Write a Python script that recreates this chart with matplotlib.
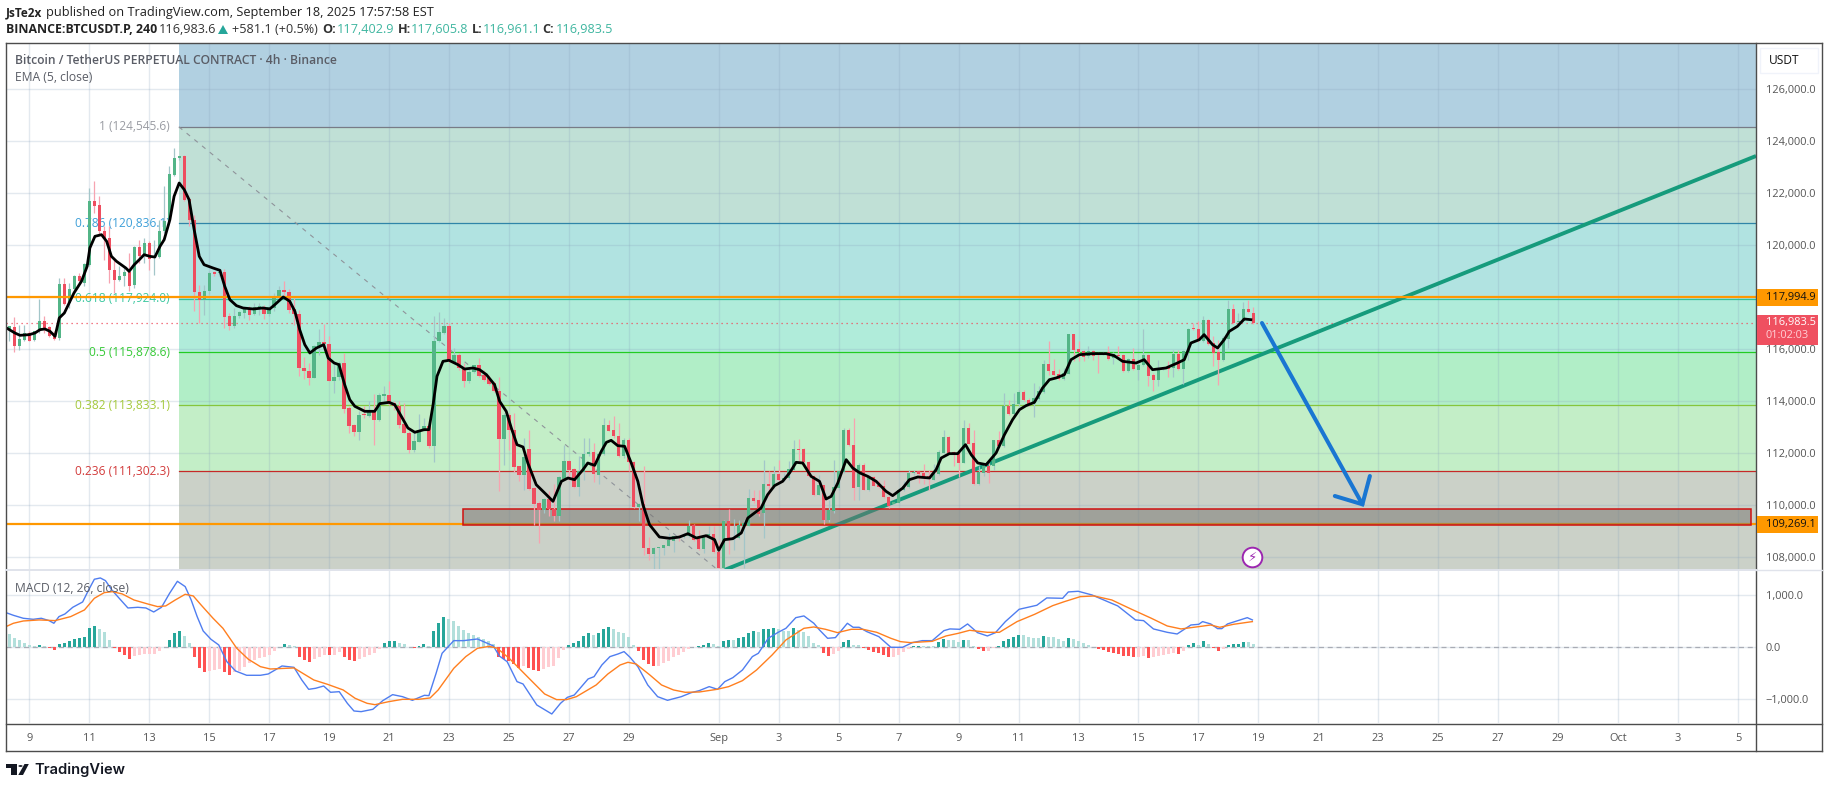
import numpy as np
import matplotlib
matplotlib.use("Agg")
import matplotlib.pyplot as plt
from matplotlib.lines import Line2D
from matplotlib.patches import Rectangle, Polygon, Circle

W, H = 1829, 788
FONT = "Open Sans"

opens = [
    116740, 116850, 116130, 116360, 116620, 116330, 116680, 117060, 116850, 116510,
    116410, 118510, 117750, 118310, 118790, 118540, 119240, 121700, 121550, 120550,
    120270, 119050, 118640, 118790, 118950, 118450, 119910, 119590, 120080, 119550,
    119530, 120550, 120910, 122700, 123330, 123440, 121770, 120970, 118200, 117870,
    118220, 118950, 118920, 118970, 117260, 116900, 117260, 117385, 117540, 117330,
    117580, 117620, 117330, 117580, 117950, 118280, 118200, 117540, 117360, 115280,
    115170, 114900, 116100, 116280, 116200, 114760, 114910, 115460, 113730, 113080,
    112800, 113480, 113410, 113600, 113280, 114210, 114230, 113920, 113820, 113120,
    112780, 112130, 112440, 112870, 113050, 112260, 116290, 116620, 116900, 115500,
    115780, 115270, 114760, 115100, 115400, 115010, 114870, 114690, 114400, 112550,
    113470, 112900, 111490, 111170, 112170, 110650, 110080, 109800, 110240, 109850,
    109590, 111010, 111700, 111400, 110680, 111270, 111950, 112050, 111170, 111950,
    113090, 112900, 112670, 111870, 112510, 111670, 109920, 110040, 108360, 108130,
    108360, 108360, 108440, 108630, 108800, 108770, 108800, 109230, 108730, 108320,
    108750, 108890, 108200, 107590, 109400, 108710, 108720, 109180, 109180, 110270,
    110200, 109690, 110820, 110720, 111210, 110970, 111020, 111360, 112170, 112170,
    111670, 111130, 110400, 110780, 109440, 109760, 110650, 111270, 112900, 112320,
    110680, 111550, 110590, 111060, 110780, 110720, 110310, 110050, 110080, 110570,
    110690, 111220, 111300, 111230, 111100, 110970, 111210, 112010, 112600, 112040,
    112000, 111630, 112960, 112390, 110820, 111230, 111510, 111510, 112510, 112260,
    113820, 113490, 113870, 114360, 114050, 113900, 114090, 114350, 115440, 115170,
    115040, 114850, 115050, 116580, 116000, 115920, 115720, 115940, 115830, 115820,
    115870, 115650, 115750, 115770, 115140, 115620, 115210, 115370, 115780, 115000,
    114790, 115260, 115310, 115280, 115820, 115230, 115870, 116780, 116770, 116300,
    117130, 116230, 115870, 115560, 116400, 117550, 117020, 117060, 117550, 117402.9,
]
highs = [
    116880, 117230, 116940, 116940, 116680, 116700, 117920, 117260, 116870, 116680,
    118730, 118730, 118540, 118860, 118920, 119310, 122190, 122470, 121870, 120720,
    120720, 119440, 119180, 119180, 119690, 119950, 120210, 120270, 120140, 120210,
    120970, 122260, 123030, 123730, 123440, 123480, 121810, 121170, 118470, 118470,
    118990, 119000, 119000, 119080, 117390, 117580, 117450, 117580, 117640, 117770,
    117770, 117710, 117710, 118150, 118410, 118600, 118310, 117960, 117510, 115690,
    115460, 116170, 116770, 116980, 116490, 115460, 115530, 115850, 113790, 113100,
    113600, 113820, 113990, 114280, 114310, 114560, 114760, 113990, 113990, 113920,
    112830, 112830, 113510, 113350, 113280, 117280, 117410, 117190, 117000, 116040,
    115850, 115460, 115270, 115400, 115650, 115200, 115010, 114760, 114920, 113540,
    113540, 113540, 111510, 112580, 112900, 110690, 110140, 110270, 110520, 110820,
    111100, 112320, 111740, 111420, 111870, 112580, 112580, 112380, 112000, 113350,
    113280, 113410, 113150, 112580, 112580, 111680, 110080, 111510, 108770, 108390,
    108390, 108480, 108920, 108820, 108860, 108920, 109440, 109280, 109050, 108800,
    109180, 109180, 108670, 109440, 109850, 109460, 109440, 109440, 110620, 110590,
    110590, 111740, 111300, 111490, 111740, 111230, 111680, 112490, 112550, 112190,
    111680, 111170, 111170, 110780, 110200, 111740, 111360, 112960, 112960, 113350,
    111610, 111610, 111170, 111100, 110970, 110970, 110330, 110130, 110650, 110910,
    111360, 111360, 111360, 111590, 111330, 111590, 112130, 112900, 112670, 112070,
    112030, 113260, 113150, 112900, 111490, 111620, 111620, 112510, 112830, 114310,
    114050, 114310, 114440, 114440, 114120, 114690, 114560, 115590, 116300, 115620,
    115230, 115270, 116590, 116590, 116300, 115950, 116130, 115980, 115870, 115910,
    116100, 115870, 116130, 115790, 115650, 116040, 115620, 116770, 115810, 115080,
    115590, 115280, 115530, 115970, 115970, 115970, 116810, 117000, 117060, 117280,
    117150, 116490, 116330, 116490, 117900, 117740, 117390, 117800, 117900, 117605.8,
]
lows = [
    116300, 115870, 115970, 116300, 116300, 116300, 116620, 116620, 116460, 116360,
    116360, 117700, 117580, 118150, 118540, 118410, 119180, 121230, 120400, 119440,
    118540, 118150, 118600, 118410, 118220, 118350, 119310, 119310, 119050, 118860,
    119500, 120460, 120850, 122640, 123280, 121680, 120720, 117450, 117000, 117320,
    118100, 118800, 118800, 116810, 116740, 116810, 117190, 117190, 117100, 117320,
    117320, 117150, 117260, 117450, 117900, 118030, 117390, 116940, 114970, 114850,
    114630, 114880, 115780, 115970, 114760, 114310, 114820, 113540, 112770, 112640,
    112510, 113350, 113390, 112320, 113220, 113920, 113860, 113670, 112960, 112750,
    112000, 112030, 112410, 112830, 112190, 111640, 116260, 116590, 115460, 115460,
    115200, 114540, 114690, 115080, 114920, 114760, 114630, 114330, 110520, 111550,
    112130, 111260, 110910, 110560, 110590, 109240, 108540, 109690, 109560, 109370,
    109400, 110970, 110970, 110650, 110330, 110970, 111870, 110870, 110820, 111920,
    112830, 112580, 111850, 111810, 111300, 109890, 109370, 108090, 107900, 107520,
    107520, 108090, 108410, 108180, 108600, 108730, 108770, 108600, 108280, 108150,
    108720, 108150, 107520, 107590, 108130, 108280, 108690, 107580, 109180, 110080,
    109560, 108730, 110330, 110650, 110910, 110910, 110970, 111330, 111680, 111610,
    111080, 110360, 110400, 109280, 109330, 109690, 110590, 111230, 112260, 110200,
    110200, 110560, 110530, 110720, 110660, 110270, 109890, 110020, 110050, 110530,
    110670, 111170, 110850, 110820, 110590, 110950, 111170, 112000, 112000, 111490,
    111080, 111620, 112330, 110780, 110780, 111100, 110850, 111360, 112230, 112230,
    113480, 113480, 113820, 113990, 113800, 113370, 114050, 114310, 115010, 114950,
    114820, 114820, 115030, 115530, 115530, 115530, 115650, 115590, 115080, 115780,
    115590, 115440, 115690, 115100, 115100, 115200, 114820, 115330, 114590, 114370,
    114560, 115200, 114910, 114920, 115200, 114670, 115590, 116740, 116260, 116280,
    116170, 115360, 114630, 115530, 116040, 116970, 116870, 117030, 117390, 116961.1,
]
closes = [
    116870, 116130, 116390, 116620, 116320, 116680, 117060, 116770, 116490, 116390,
    118510, 117740, 118310, 118790, 118600, 119270, 121700, 121510, 120530, 120270,
    119030, 118640, 118820, 118950, 118440, 119910, 119590, 120080, 119460, 119560,
    120550, 120910, 122740, 123350, 123440, 121740, 120950, 118180, 117870, 118240,
    118920, 118900, 118950, 117230, 116900, 117280, 117410, 117540, 117320, 117620,
    117640, 117330, 117620, 118000, 118280, 118180, 117510, 117330, 115260, 115140,
    114870, 116130, 116280, 116180, 114760, 114940, 115460, 113710, 113050, 112800,
    113480, 113450, 113600, 113280, 114230, 114230, 113900, 113800, 113090, 112770,
    112130, 112460, 112900, 113050, 112260, 116320, 116640, 116900, 115530, 115780,
    115270, 114760, 115120, 115370, 114970, 114820, 114670, 114370, 112540, 113470,
    112870, 111450, 111170, 111830, 110630, 110050, 109800, 110240, 109850, 109590,
    111060, 111700, 111360, 110680, 111300, 111970, 112050, 111180, 111970, 113090,
    112860, 112640, 111870, 112510, 111640, 109920, 110040, 108330, 108130, 108350,
    108375, 108460, 108640, 108800, 108740, 108820, 109210, 108640, 108320, 108770,
    108890, 108180, 107590, 109400, 108730, 108770, 109220, 109310, 110270, 110170,
    109650, 110820, 110720, 111210, 110970, 111050, 111400, 112170, 112130, 111640,
    111100, 110400, 110780, 109440, 109800, 110690, 111300, 112900, 112300, 110650,
    111550, 110590, 111060, 110740, 110690, 110300, 109980, 110100, 110590, 110720,
    111230, 111260, 111210, 111080, 111000, 111230, 112040, 112600, 112010, 112000,
    111630, 112960, 112360, 110820, 111260, 111490, 111230, 112510, 112260, 113820,
    113510, 113900, 114360, 114030, 113900, 114120, 114370, 115440, 115140, 115010,
    114850, 115080, 116580, 115970, 115900, 115690, 115920, 115720, 115820, 115850,
    115610, 115820, 115740, 115140, 115620, 115230, 115400, 115780, 114970, 114790,
    115280, 115260, 115230, 115820, 115230, 115910, 116770, 116760, 116300, 117130,
    116200, 115850, 115560, 116420, 117550, 117000, 117030, 117550, 117410, 116983.5,
]

# EMA, (day of chart, price)
ema_days = [
    8.24, 8.52, 8.69, 9.00, 9.19, 9.36, 9.52, 9.69, 9.86, 10.00, 10.17, 10.33, 10.49, 10.74,
    10.93, 11.02, 11.19, 11.41, 11.58, 11.74, 11.91, 12.22, 12.33, 12.50, 12.67, 12.83,
    13.02, 13.19, 13.36, 13.50, 13.69, 13.83, 14.00, 14.17, 14.33, 14.50, 14.67, 14.83,
    15.13, 15.36, 15.52, 15.69, 15.91, 16.13, 16.47, 16.80, 17.02, 17.19, 17.47, 17.69,
    17.86, 18.02, 18.19, 18.36, 18.58, 18.82, 18.97, 19.17, 19.33, 19.52, 19.69, 19.86,
    20.19, 20.52, 20.69, 21.00, 21.19, 21.41, 21.63, 21.86, 22.17, 22.33, 22.47, 22.60,
    22.80, 23.00, 23.30, 23.52, 23.80, 24.02, 24.25, 24.52, 24.69, 24.91, 25.08, 25.27,
    25.47, 25.63, 25.91, 26.25, 26.47, 26.75, 26.97, 27.19, 27.47, 27.63, 27.86, 28.08,
    28.25, 28.41, 28.63, 28.86, 29.08, 29.30, 29.47, 29.69, 30.02, 30.36, 30.69, 30.97,
    31.25, 31.58, 31.86, 32.00, 32.19, 32.47, 32.75, 32.97, 33.19, 33.41, 33.63, 33.86,
    34.13, 34.36, 34.58, 34.80, 35.08, 35.36, 35.58, 35.75, 35.97, 36.25, 36.47, 36.71,
    36.97, 37.25, 37.58, 37.80, 38.14, 38.36, 38.64, 39.03, 39.25, 39.42, 39.69, 39.97,
    40.23, 40.42, 40.64, 40.92, 41.25, 41.53, 41.80, 42.03, 42.25, 42.53, 42.80, 43.03,
    43.25, 43.53, 43.75, 44.03, 44.47, 44.92, 45.19, 45.47, 45.92, 46.19, 46.47, 46.92,
    47.30, 47.53, 47.75, 48.03, 48.19, 48.47, 48.64, 48.86, 49.03, 49.30, 49.53, 49.75,
]
ema_values = [
    116808, 116616, 116526, 116552, 116616, 116744, 116770, 116680, 116488, 117193, 117385, 117770, 118154, 118603,
    119179, 119884, 120333, 120397, 120141, 119564, 119371, 119115, 118987, 119243, 119435, 119628,
    119564, 119538, 119948, 120205, 120974, 121871, 122384, 122128, 121743, 120589, 119564, 119243,
    119115, 119025, 118410, 117898, 117667, 117577, 117539, 117577, 117539, 117705, 118000, 117834,
    117449, 116744, 116167, 115847, 116039, 116167, 115654, 115462, 115398, 114629, 114052, 113795,
    113603, 113603, 113898, 113949, 113859, 113411, 112962, 112796, 112898, 112898, 113859, 114949,
    115526, 115565, 115397, 115230, 115269, 115205, 115012, 114628, 113987, 113602, 112961, 112320,
    112231, 111615, 110782, 110397, 110141, 110910, 111038, 110974, 111359, 111615, 111525, 112064,
    112410, 112487, 112282, 112256, 111615, 110910, 110013, 109244, 108769, 108718, 108769, 108897,
    108731, 108820, 108667, 108256, 108667, 108705, 108923, 109500, 109692, 109885, 110397, 110743,
    110910, 111231, 111641, 111615, 111102, 110910, 110231, 110333, 110846, 111743, 111423, 111231,
    111102, 110910, 110526, 110360, 110655, 110975, 111078, 111039, 111360, 111808, 111975, 111975,
    112321, 111936, 111616, 111552, 112000, 112705, 113282, 113667, 113821, 113949, 114500, 114821,
    114885, 115013, 115590, 115782, 115821, 115821, 115744, 115526, 115462, 115590, 115205, 115270,
    115462, 115590, 116231, 116359, 116552, 116167, 116039, 116359, 116680, 116872, 117154, 117128,
]

hist_values = [
    263, 186, 135, 90, 45, 26, 51, 19, -19, -45,
    64, 90, 128, 167, 173, 205, 365, 417, 353, 288,
    147, -19, -96, -141, -218, -167, -154, -128, -128, -128,
    -64, 0, 141, 269, 314, 224, 90, -192, -397, -468,
    -449, -429, -417, -468, -526, -481, -449, -372, -308, -244,
    -212, -179, -141, -77, 13, 64, 38, 19, -192, -244,
    -276, -224, -179, -141, -147, -141, -96, -179, -244, -269,
    -224, -179, -154, -115, -32, 77, 115, 128, 90, 64,
    0, -19, 26, 64, 32, 321, 474, 577, 545, 500,
    417, 333, 282, 244, 205, 167, 115, 64,
    -192, -224, -269, -321, -397, -353, -397, -436, -449, -417, -385, -353, -205, -45,
    51, 77, 128, 212, 269, 244, 269, 353,
    385, 353, 301, 282, 205, 38, -64, -237, -321, -353,
    -353, -308, -256, -192, -141, -90, -32, 13, 19, 51,
    90, 58, 26, 128, 141, 141, 179, 205, 276, 321,
    301, 353, 359, 372, 353, 321, 321, 365, 333, 295,
    218, 90, 51, -115, -173, -128, -77, 96, 141, 51,
    51, -19, -51, -83, -109, -141, -179, -179, -141, -96,
    -32, 19, 32, 32, 32, 26, 96, 160, 147, 147,
    109, 147, 147, 32, -32, -64, -64, -19, 32, 128,
    154, 199, 244, 237, 205, 186, 173, 224, 205, 192,
    154, 128, 173, 160, 128, 90, 51, 13, -32, -58,
    -83, -109, -122, -160, -167, -192, -192, -160, -212, -192,
    -167, -154, -135, -115, -122, -77, 38, 77, 51, 115,
    71, -6, -71, -32, 51, 64, 71, 103, 103, 64,
]

macd_days = [
    8.22, 8.47, 8.80, 9.13, 9.40, 9.66, 9.82, 9.99, 10.19, 10.45, 10.78, 10.98, 11.17, 11.37,
    11.54, 11.77, 12.03, 12.29, 12.62, 12.89, 13.15, 13.41, 13.68, 13.94, 14.20, 14.40, 14.60,
    14.80, 15.06, 15.32, 15.59, 15.88, 16.25, 16.71, 16.97, 17.43, 17.83, 18.09, 18.32, 18.55,
    18.82, 19.05, 19.34, 19.61, 19.83, 20.07, 20.46, 20.79, 21.12, 21.45, 21.78, 22.18, 22.33,
    22.57, 22.77, 23.16, 23.49, 23.95, 24.48, 24.68, 24.94, 25.27, 25.47, 25.93, 26.43, 26.72,
    26.95, 27.18, 27.64, 27.84, 28.10, 28.37, 28.64, 28.84, 29.04, 29.30, 29.63, 29.96, 30.29,
    30.75, 31.08, 31.35, 31.68, 31.96, 32.20, 32.47, 32.79, 33.12, 33.32, 33.65, 33.98, 34.24,
    34.57, 34.84, 35.17, 35.36, 35.63, 35.89, 36.29, 36.48, 36.68, 36.94, 37.34, 37.74, 38.13,
    38.46, 38.79, 39.12, 39.51, 39.71, 40.04, 40.30, 40.63, 40.96, 41.23, 41.56, 42.02, 42.61,
    42.94, 43.47, 43.66, 43.99, 44.45, 45.31, 45.90, 46.17, 46.50, 46.96, 47.29, 47.75, 48.01,
    48.14, 48.41, 48.64, 48.78, 48.97, 49.63, 49.80,
]
macd_values = [
    667, 615, 558, 538, 558, 513, 462, 590, 641, 769, 872, 1103, 1308, 1333,
    1282, 1090, 923, 756, 769, 756, 679, 769, 1038, 1269, 1167, 910, 590,
    314, 154, 45, -276, -455, -538, -538, -513, -359, -385, -628, -808, -788,
    -744, -865, -853, -1077, -1224, -1237, -1192, -1026, -910, -949, -1019, -923, -929,
    -500, -115, 128, 128, 160, 26, -167, -276, -660, -705, -1109, -1282, -1077,
    -962, -917, -609, -564, -340, -179, -128, -83, -192, -372, -724, -949, -1019,
    -949, -872, -833, -756, -808, -660, -583, -436, -179, -115, 173, 288, 365,
    570, 603, 462, 333, 173, 186, 462, 385, 385, 301, 205, 0, 0,
    90, 128, 128, 320, 353, 346, 449, 282, 218, 282, 494, 731, 808,
    949, 942, 1064, 1077, 1006, 795, 526, 513, 353, 288, 256, 429, 442,
    494, 449, 359, 359, 449, 570, 526,
]
signal_days = [
    8.22, 8.47, 8.80, 9.33, 9.86, 10.38, 10.84, 11.17, 11.50, 11.77, 12.10, 12.49, 12.95, 13.28,
    13.55, 13.87, 14.20, 14.47, 14.73, 15.13, 15.46, 15.92, 16.31, 16.71, 17.04, 17.83, 18.16,
    18.49, 18.95, 19.47, 19.87, 20.27, 20.53, 20.99, 21.45, 21.98, 22.37, 22.64, 23.16, 23.56,
    23.95, 24.35, 24.61, 25.01, 25.67, 26.19, 26.59, 26.92, 27.25, 27.91, 28.30, 28.71, 28.97,
    29.24, 29.70, 30.09, 30.49, 30.88, 31.35, 31.94, 32.33, 32.79, 33.26, 33.78, 34.24, 34.84,
    35.17, 35.56, 35.96, 36.42, 36.81, 37.27, 37.74, 38.06, 38.39, 39.12, 39.58, 39.99, 40.37,
    40.96, 41.36, 41.95, 42.54, 43.14, 43.53, 44.06, 44.52, 45.11, 45.77, 46.43, 46.96, 47.42,
    48.01, 48.41, 48.71, 49.17, 49.80,
]
signal_values = [
    397, 462, 506, 526, 513, 590, 718, 942, 1051, 1070, 1026, 910, 833, 782,
    795, 910, 1019, 987, 814, 558, 365, -19, -231, -372, -417, -397, -513,
    -628, -712, -820, -981, -1077, -1103, -1045, -1000, -1000, -974, -820, -404, -179,
    -19, 19, -19, -212, -596, -897, -1006, -1006, -949, -724, -513, -340, -288,
    -320, -532, -724, -820, -865, -859, -808, -756, -641, -436, -147, 141, 365,
    391, 346, 282, 346, 346, 288, 173, 109, 90, 115, 218, 269, 327,
    288, 288, 494, 635, 801, 878, 974, 987, 910, 731, 558, 410, 353,
    397, 429, 385, 442, 494,
]

# fib levels, top to bottom
fib_ratios = ["1", "0.786", "0.618", "0.5", "0.382", "0.236"]
fib_prices = [124545.6, 120836.1, 117924.0, 115878.6, 113833.1, 111302.3]
fib_line_colors = ["#787b86", "#2f85a8", "#2fbf9c", "#22cc22", "#86c53c", "#c62828"]
fib_text_colors = ["#9a9ca3", "#3d9fd8", "#3cc8a0", "#35c935", "#a5c93c", "#d23a3a"]
band_colors = ["#b1d0e1", "#c0e0d6", "#b1e3e1", "#b0ecda", "#b1eec7", "#c3eec7", "#cbd1c8"]

h_levels = [117994.9, 109269.1]
tick_prices = [108000, 110000, 112000, 114000, 116000, 118000, 120000, 122000, 124000, 126000]
macd_ticks = [-1000, 0, 1000]
macd_labels = ["\u22121,000.0", "0.0", "1,000.0"]
tick_days = [9, 11, 13, 15, 17, 19, 21, 23, 25, 27, 29, 32, 34, 36, 38, 40, 42, 44, 46, 48,
             50, 52, 54, 56, 58, 60, 62, 64, 66]
tick_names = ["9", "11", "13", "15", "17", "19", "21", "23", "25", "27", "29", "Sep", "3", "5",
              "7", "9", "11", "13", "15", "17", "19", "21", "23", "25", "27", "29", "Oct", "3", "5"]

trend_days = [32.19, 66.6]
trend_prices = [107500, 123423]
fib_diag_days = [13.99, 31.97]
fib_diag_prices = [124545.6, 107500]
arrow_days = [50.12, 53.47]
arrow_prices = [117000, 110027]
wing_days = [52.55, 53.47, 53.72]
wing_prices = [110346, 110027, 111115]
zone_days = [23.46, 66.42]
zone_prices = [109219, 109835]
flash_day, flash_price = 49.79, 108000


def fx(x):
    return x / W


def fy(y):
    return 1 - y / H


def ftext(x, y, s, **kw):
    kw.setdefault("family", FONT)
    kw.setdefault("va", "center")
    return fig.text(fx(x), fy(y), s, **kw)


fig = plt.figure(figsize=(W / 100, H / 100), dpi=100, facecolor="white")
ax = fig.add_axes([fx(6), fy(570), 1750 / W, 527 / H])
ax2 = fig.add_axes([fx(6), fy(723.3), 1750 / W, 153.3 / H])

x0, x1 = 8.223, 66.6
ax.set_xlim(x0, x1)
ax2.set_xlim(x0, x1)
ax.set_ylim(107500, 127769)
ax2.set_ylim(-1461, 1486)

o, h, l, c = map(np.array, (opens, highs, lows, closes))
days = 9 + np.arange(-4, len(o) - 4) / 6
up = c >= o

# grid and axes
for a in (ax, ax2):
    a.set_xticks(tick_days)
    a.set_axisbelow("line")
    a.grid(True, color="#8aa4bd", alpha=0.24, linewidth=1.0)
    a.tick_params(length=0)
    a.yaxis.tick_right()
    for s in a.spines.values():
        s.set_visible(False)
ax.set_xticklabels([])
ax.set_yticks(tick_prices)
ax.set_yticklabels([f"{p:,.1f}" for p in tick_prices], family=FONT, fontsize=7.9, color="#555555")
ax.tick_params(axis="y", pad=7)
ax2.set_xticks(tick_days)
ax2.set_xticklabels(tick_names, family=FONT, fontsize=7.9, color="#555555")
ax2.tick_params(axis="x", pad=7)
ax2.set_yticks(macd_ticks)
ax2.set_yticklabels(macd_labels, family=FONT, fontsize=7.9, color="#555555")
ax2.tick_params(axis="y", pad=7)

# fib bands
band_edges = [127769] + fib_prices + [107500]
fib_x0 = 13.99
for i, col in enumerate(band_colors):
    ax.fill_between([fib_x0, x1], band_edges[i + 1], band_edges[i], color=col, linewidth=0, zorder=1)
for ratio, price, lc, tc in zip(fib_ratios, fib_prices, fib_line_colors, fib_text_colors):
    ax.plot([fib_x0, x1], [price, price], color=lc, linewidth=0.9, zorder=2)
    ax.text(fib_x0 - 0.3, price, f"{ratio} ({price:,.1f})", color=tc, ha="right", va="center",
            family=FONT, fontsize=8.6, zorder=2.2)
ax.plot(fib_diag_days, fib_diag_prices, color="#8f939a", linestyle=(0, (4, 5)), linewidth=0.8, zorder=2.3)

# levels, trend line and zone
ax.plot([x0, x1], [h_levels[0]] * 2, color="#ff9800", linewidth=1.6, zorder=4.5)
ax.plot([x0, x1], [h_levels[1]] * 2, color="#ff9800", linewidth=1.6, zorder=3.2)
ax.plot(trend_days, trend_prices, color="#169b7c", linewidth=2.8, solid_capstyle="butt", zorder=3.3)
ax.add_patch(Rectangle((zone_days[0], zone_prices[0]), zone_days[1] - zone_days[0],
                       zone_prices[1] - zone_prices[0], facecolor=(0.46, 0.45, 0.43, 0.5),
                       edgecolor="#d01010", linewidth=1.1, zorder=3.5))
ax.axhline(c[-1], color="#ef5060", linestyle=(0, (1, 3)), linewidth=0.9, zorder=2.4)

# candles
wick_col = np.where(up, "#a3c6c9", "#f7a3b0")
body_col = np.where(up, "#53b587", "#ee4d5f")
ax.vlines(days, l, h, colors=wick_col, linewidth=0.9, zorder=3.9)
ax.bar(days, np.maximum(np.abs(c - o), 40), bottom=np.minimum(o, c), width=0.108,
       color=body_col, linewidth=0, zorder=4)
ax.plot(ema_days, ema_values, color="black", linewidth=2.0, solid_joinstyle="round", zorder=5)

# arrow
ax.plot(arrow_days, arrow_prices, color="#1976d2", linewidth=2.9, solid_capstyle="round", zorder=6)
ax.plot(wing_days, wing_prices, color="#1976d2", linewidth=2.9, solid_capstyle="round",
        solid_joinstyle="miter", zorder=6)

# flash marker
ax.scatter([flash_day], [flash_price], s=200, facecolor="white", edgecolor="#9c27b0", linewidth=1.4, zorder=7)
ax.text(flash_day, flash_price, "\u26a1", color="#9c27b0", ha="center", va="center",
        family="DejaVu Sans", fontsize=9.5, zorder=8)

# macd pane
hist = np.array(hist_values)
prev = np.r_[hist[0] + 1, hist[:-1]]
hist_col = []
for v, p in zip(hist, prev):
    if v >= 0:
        hist_col.append("#26a69a" if v > p else "#b2dfdb")
    else:
        hist_col.append("#ff5252" if v < p else "#ffcdd2")
ax2.axhline(0, color="#a9acb5", linestyle=(0, (4, 3)), linewidth=0.9, zorder=1.6)
ax2.bar(days, hist, width=0.1, color=hist_col, linewidth=0, zorder=2)
ax2.plot(macd_days, macd_values, color="#4f7df0", linewidth=1.0, zorder=3)
ax2.plot(signal_days, signal_values, color="#ff7f1f", linewidth=1.0, zorder=3.1)

# frame around the chart
frame = "#4c4c4c"
for xs, ys, col, lw in [
    ([6, 1822], [43, 43], frame, 1.0), ([6, 1822], [751, 751], frame, 1.0),
    ([6, 6], [43, 751], frame, 1.0), ([1822, 1822], [43, 751], frame, 1.0),
    ([1756, 1756], [43, 751], frame, 1.0), ([6, 1822], [723.5, 723.5], frame, 1.0),
    ([6, 1756], [570, 570], "#e0e3eb", 1.4), ([1756, 1822], [570, 570], "#e0e3eb", 1.0),
]:
    fig.add_artist(Line2D([fx(v) for v in xs], [fy(v) for v in ys], color=col, linewidth=lw, zorder=5))

# header
ftext(6, 12.5, "JsTe2x", fontsize=8.5, fontweight="bold", color="#222222")
ftext(46, 12.5, "published on TradingView.com, September 18, 2025 17:57:58 EST", fontsize=9.2, color="#222222")
ftext(6, 29.5, "BINANCE:BTCUSDT.P, 240", fontsize=8.9, fontweight="bold", color="#222222")
ftext(159, 29.5, "116,983.6", fontsize=9.1, color="#333333")
fig.add_artist(Polygon([(fx(218), fy(34)), (fx(228), fy(34)), (fx(223), fy(25))], closed=True,
                       facecolor="#26a69a", edgecolor="none"))
ftext(232, 29.5, "+581.1 (+0.5%)", fontsize=9.1, color="#333333")
for key, kx, val, vx in [("O:", 322, "117,402.9", 336.7), ("H:", 397.7, "117,605.8", 410.7),
                         ("L:", 471.7, "116,961.1", 482.7), ("C:", 542, "116,983.5", 555.3)]:
    ftext(kx, 29.5, key, fontsize=9.1, fontweight="bold", color="#333333")
    ftext(vx, 29.5, val, fontsize=9.1, color="#3fb6a0")

# pane titles
ftext(15, 60.5, "Bitcoin / TetherUS PERPETUAL CONTRACT \u00b7 4h \u00b7 Binance", fontsize=8.7,
      fontweight="semibold", color="#5a5d66", zorder=6)
ftext(15, 77.5, "EMA (5, close)", fontsize=8.7, color="#5a5d66", zorder=6)
ftext(15, 588, "MACD (12, 26, close)", fontsize=8.7, color="#5a5d66", zorder=6)

# axis tags
fig.add_artist(Rectangle((fx(1760), fy(73)), 58 / W, 25 / H, facecolor="white", edgecolor="#f0f3fa",
                         linewidth=1, zorder=5))
ftext(1769, 60.5, "USDT", fontsize=8.6, color="#111111", zorder=6)
for top, bot, col in [(289, 305.5, "#ff9800"), (516, 532.7, "#ff9800"), (315, 345, "#ef5060")]:
    fig.add_artist(Rectangle((fx(1757), fy(bot)), 61 / W, (bot - top) / H, facecolor=col,
                             edgecolor="none", zorder=5))
ftext(1766, 297, "117,994.9", fontsize=7.9, color="#111111", zorder=6)
ftext(1766, 524, "109,269.1", fontsize=7.9, color="#111111", zorder=6)
ftext(1766, 323, "116,983.5", fontsize=7.9, color="white", zorder=6)
ftext(1766, 336, "01:02:03", fontsize=7.9, color="#ffd0d6", zorder=6)

# logo
for pts in ([(6.3, 764), (17, 764), (17, 775), (11, 775), (11, 768.3), (6.3, 768.3)],
            [(24.5, 764), (28.8, 764), (23, 775), (18.3, 775)]):
    fig.add_artist(Polygon([(fx(a), fy(b)) for a, b in pts], closed=True, facecolor="#131722",
                           edgecolor="none", zorder=5))
fig.add_artist(Circle((fx(20.5), fy(766)), 2.1 / W, facecolor="#131722", edgecolor="none", zorder=5))
ftext(34, 769.5, "TradingView", fontsize=10.6, fontweight="semibold", family="Inter", color="#131722")

fig.savefig("out.png", dpi=100)
